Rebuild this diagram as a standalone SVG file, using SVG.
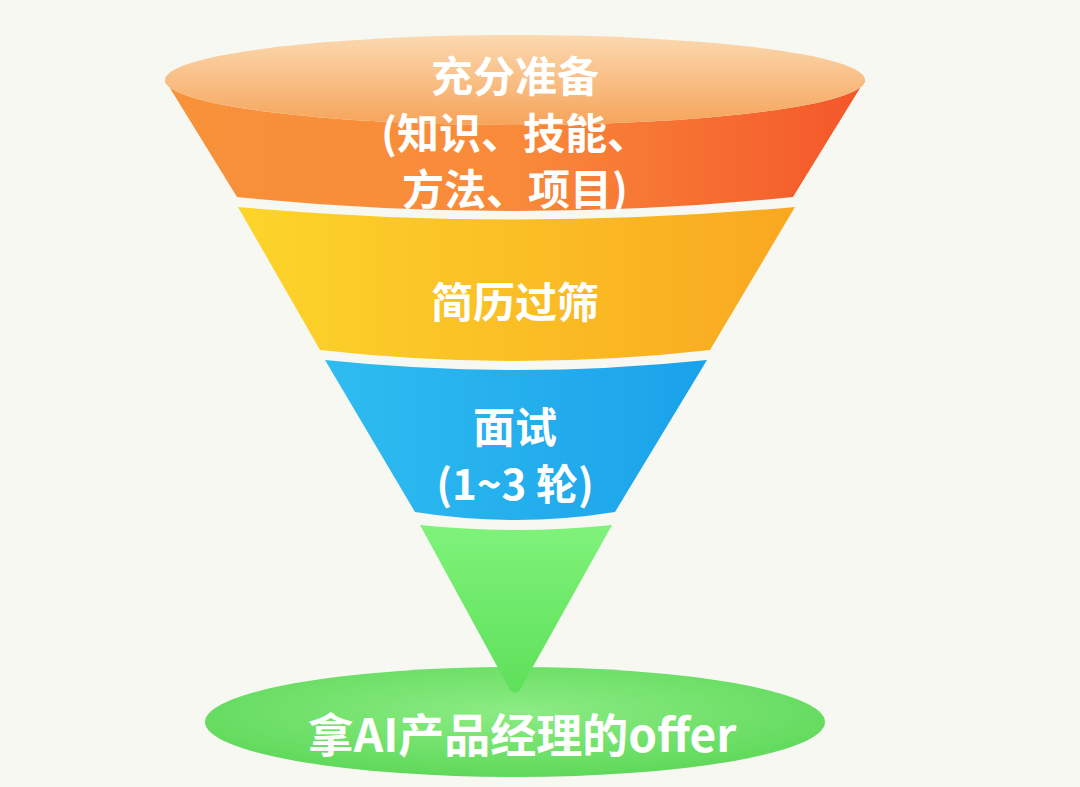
<svg xmlns="http://www.w3.org/2000/svg" width="1080" height="787" viewBox="0 0 1080 787">
<defs>
<linearGradient id="og" x1="0" x2="1" y1="0" y2="0"><stop offset="0" stop-color="#f7923a"/><stop offset="0.5" stop-color="#f98a3a"/><stop offset="1" stop-color="#f4562a"/></linearGradient>
<linearGradient id="ot" x1="0" x2="0" y1="0" y2="1"><stop offset="0" stop-color="#fbd9b0"/><stop offset="1" stop-color="#f6a45a"/></linearGradient>
<linearGradient id="yg" x1="0" x2="1" y1="0" y2="0"><stop offset="0" stop-color="#fcd52a"/><stop offset="1" stop-color="#f9a820"/></linearGradient>
<linearGradient id="bg" x1="0" x2="1" y1="0" y2="0"><stop offset="0" stop-color="#2fbcf0"/><stop offset="1" stop-color="#1aa2ea"/></linearGradient>
<linearGradient id="gg" x1="0" x2="0" y1="0" y2="1"><stop offset="0" stop-color="#7ff27a"/><stop offset="1" stop-color="#5ee05a"/></linearGradient>
<radialGradient id="el" cx="0.5" cy="0.4" r="0.6"><stop offset="0" stop-color="#8cec84"/><stop offset="1" stop-color="#5fd95a"/></radialGradient>
<style>text{font-family:"Noto Sans CJK SC","Liberation Sans",sans-serif;font-weight:bold;fill:#fff;text-anchor:middle;font-size:42px}</style>
</defs>
<rect width="1080" height="787" fill="#f7f8f2"/>
<g id="base"><ellipse cx="515" cy="722" rx="310" ry="55" fill="url(#el)"/></g>
<g id="green"><path d="M420 525 Q515 535 612 525 L520 690 Q515 695 510 690 Z" fill="url(#gg)"/></g>
<g id="blue"><path d="M325 360 Q515 380 707 360 L615 512 Q515 528 415 512 Z" fill="url(#bg)"/></g>
<g id="yellow"><path d="M238 207 Q515 232 795 207 L710 350 Q515 372 320 350 Z" fill="url(#yg)"/></g>
<g id="orange"><path d="M165 80 A350 45 0 0 0 865 80 L793 197 Q515 225 237 197 Z" fill="url(#og)"/>
<ellipse cx="515" cy="80" rx="350" ry="45" fill="url(#ot)"/></g>
<g id="labels">
<text x="515" y="92">充分准备</text>
<text x="515" y="149">(知识、技能、</text>
<text x="515" y="205">方法、项目)</text>
<text x="515" y="318">简历过筛</text>
<text x="515" y="443">面试</text>
<text x="515" y="500">(1~3 轮)</text>
<text x="522" y="752" style="font-size:46px">拿AI产品经理的offer</text>
</g>
</svg>
